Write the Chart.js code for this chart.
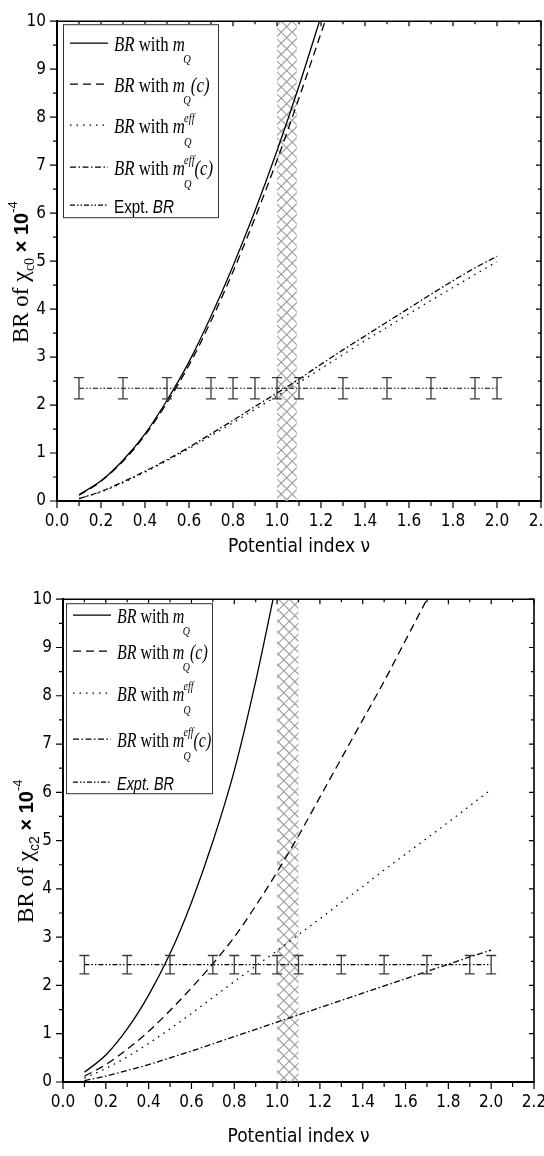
<!DOCTYPE html>
<html>
<head>
<meta charset="utf-8">
<script src="https://cdn.jsdelivr.net/npm/chart.js@4/dist/chart.umd.min.js"></script>
<style>
  html, body { margin: 0; padding: 0; background: #fff; }
  .box { position: absolute; left: 0; width: 544px; height: 578px; }
</style>
</head>
<body>
<div class="box" style="top:0"><canvas id="chartTop" width="544" height="578"></canvas></div>
<div class="box" style="top:578px"><canvas id="chartBottom" width="544" height="578"></canvas></div>
<script>
// Potential index values
const nu = [0.1, 0.2, 0.3, 0.4, 0.5, 0.6, 0.7, 0.8, 0.9, 1.0, 1.1, 1.2, 1.3, 1.4, 1.5, 1.6, 1.7, 1.8, 1.9, 2.0];
const exptNu = [0.1, 0.3, 0.5, 0.7, 0.8, 0.9, 1.0, 1.1, 1.3, 1.5, 1.7, 1.9, 2.0];
const xTickLabels = ['0.0', '0.2', '0.4', '0.6', '0.8', '1.0', '1.2', '1.4', '1.6', '1.8', '2.0', '2.2'];
const yTickLabels = ['0', '1', '2', '3', '4', '5', '6', '7', '8', '9', '10'];

// chi_c0 (top panel)
const c0Mq = [0.13, 0.42, 0.85, 1.40, 2.10, 2.90, 3.85, 4.90, 6.05, 7.30, 8.65, 10.10];
const c0MqC = [0.12, 0.41, 0.83, 1.37, 2.05, 2.83, 3.75, 4.78, 5.90, 7.10, 8.40, 9.75, 11.10];
const c0Eff = [0.05, 0.19, 0.38, 0.60, 0.84, 1.09, 1.36, 1.63, 1.91, 2.19, 2.47, 2.76, 3.05, 3.34, 3.62, 3.90, 4.18, 4.45, 4.72, 4.99];
const c0EffC = [0.05, 0.20, 0.40, 0.62, 0.86, 1.12, 1.40, 1.68, 1.97, 2.25, 2.54, 2.85, 3.15, 3.44, 3.73, 4.02, 4.31, 4.59, 4.86, 5.10];
const c0Expt = 2.35;
const c0Err = 0.22;
const c0Band = [1.0, 1.09];

// chi_c2 (bottom panel)
const c2Mq = [0.20, 0.56, 1.10, 1.80, 2.66, 3.72, 4.98, 6.45, 8.30, 10.40];
const c2MqC = [0.12, 0.36, 0.68, 1.05, 1.48, 1.95, 2.45, 3.00, 3.65, 4.35, 5.10, 5.90, 6.70, 7.50, 8.30, 9.15, 10.00, 10.85];
const c2Eff = [0.08, 0.28, 0.52, 0.80, 1.10, 1.42, 1.75, 2.08, 2.40, 2.72, 3.05, 3.38, 3.72, 4.05, 4.39, 4.72, 5.05, 5.38, 5.72, 6.06];
const c2EffC = [0.03, 0.12, 0.24, 0.36, 0.50, 0.64, 0.79, 0.94, 1.09, 1.24, 1.39, 1.54, 1.69, 1.84, 1.99, 2.14, 2.29, 2.44, 2.59, 2.73];
const c2Expt = 2.43;
const c2Err = 0.19;
const c2Band = [1.0, 1.1];

const SERIF = "'Liberation Serif', 'DejaVu Serif', serif";
const SANS = "'Liberation Sans', Arial, sans-serif";
const NARROW = "'Liberation Sans Narrow', 'DejaVu Sans Condensed', 'Liberation Sans', sans-serif";

const DASH = [8, 5];
const DOT = [1.5, 5];
const DASHDOT = [6, 2.5, 1.5, 2.5];
const DASHDOTDOT = [5, 2, 1.5, 2, 1.5, 2];

function pts(xs, ys) {
    return ys.map((v, i) => ({ x: xs[i], y: v }));
}

// rich text: plain segments, or a stack of sup/sub drawn at the same x
function drawRich(ctx, x, y, segs, sx) {
    ctx.save();
    ctx.translate(x, y);
    ctx.scale(sx, 1);
    ctx.fillStyle = '#000';
    ctx.textBaseline = 'alphabetic';
    let cx = 0;
    segs.forEach(s => {
        cx += s.dx || 0;
        if (s.stack) {
            let w = 0;
            s.stack.forEach(t => {
                ctx.font = t.f;
                ctx.fillText(t.t, cx, t.dy);
                w = Math.max(w, ctx.measureText(t.t).width);
            });
            cx += w;
        } else {
            ctx.font = s.f;
            ctx.fillText(s.t, cx, s.dy || 0);
            cx += ctx.measureText(s.t).width;
        }
    });
    ctx.restore();
    return cx * sx;
}

function richWidth(ctx, segs) {
    let w = 0;
    segs.forEach(s => {
        w += s.dx || 0;
        if (s.stack) {
            let m = 0;
            s.stack.forEach(t => { ctx.font = t.f; m = Math.max(m, ctx.measureText(t.t).width); });
            w += m;
        } else {
            ctx.font = s.f;
            w += ctx.measureText(s.t).width;
        }
    });
    return w;
}

const IT = 'italic 21px ' + SERIF;
const UP = '21px ' + SERIF;
const SUB = 'italic 13px ' + SERIF;
const legendRows = [
    [{ t: 'BR', f: IT }, { t: ' with ', f: UP }, { t: 'm', f: IT }, { t: 'Q', f: SUB, dy: 12, dx: -2 }],
    [{ t: 'BR', f: IT }, { t: ' with ', f: UP }, { t: 'm', f: IT }, { t: 'Q', f: SUB, dy: 12, dx: -2 }, { t: '(c)', f: IT }],
    [{ t: 'BR', f: IT }, { t: ' with ', f: UP }, { t: 'm', f: IT }, { stack: [{ t: 'eff', f: SUB, dy: -11 }, { t: 'Q', f: SUB, dy: 13 }], dx: -1 }],
    [{ t: 'BR', f: IT }, { t: ' with ', f: UP }, { t: 'm', f: IT }, { stack: [{ t: 'eff', f: SUB, dy: -11 }, { t: 'Q', f: SUB, dy: 13 }], dx: -1 }, { t: '(c)', f: IT }]
];

const decor = {
    id: 'decor',
    beforeDatasetsDraw(chart, args, o) {
        const { ctx, chartArea: a, scales: { x } } = chart;
        const x0 = x.getPixelForValue(o.band[0]);
        const x1 = x.getPixelForValue(o.band[1]);
        const h = a.bottom - a.top;
        ctx.save();
        ctx.beginPath();
        ctx.rect(x0, a.top, x1 - x0, h);
        ctx.clip();
        ctx.strokeStyle = '#a0a0a0';
        ctx.lineWidth = 1.2;
        ctx.beginPath();
        for (let s = -h; s < x1 - x0 + h; s += 11) {
            ctx.moveTo(x0 + s, a.top); ctx.lineTo(x0 + s + h, a.bottom);
            ctx.moveTo(x0 + s, a.top); ctx.lineTo(x0 + s - h, a.bottom);
        }
        ctx.stroke();
        ctx.restore();
    },
    afterDatasetsDraw(chart) {
        const { ctx, scales: { y } } = chart;
        ctx.save();
        ctx.strokeStyle = '#3a3a3a';
        ctx.lineWidth = 1.3;
        chart.data.datasets.forEach((ds, i) => {
            if (!ds.errorBar) return;
            chart.getDatasetMeta(i).data.forEach((pt, j) => {
                const v = ds.data[j].y;
                const yt = y.getPixelForValue(v + ds.errorBar);
                const yb = y.getPixelForValue(v - ds.errorBar);
                ctx.beginPath();
                ctx.moveTo(pt.x, yt); ctx.lineTo(pt.x, yb);
                ctx.moveTo(pt.x - 5, yt); ctx.lineTo(pt.x + 5, yt);
                ctx.moveTo(pt.x - 5, yb); ctx.lineTo(pt.x + 5, yb);
                ctx.stroke();
            });
        });
        ctx.restore();
    },
    afterDraw(chart, args, o) {
        const { ctx, chartArea: a, scales: { x, y } } = chart;
        ctx.save();
        ctx.strokeStyle = '#000';
        ctx.lineWidth = 1.2;
        ctx.beginPath();
        // ticks: bottom outward, top inward
        for (let i = 0; i <= 22; i++) {
            const px = x.getPixelForValue(i / 10);
            const major = i % 2 === 0;
            ctx.moveTo(px, a.bottom); ctx.lineTo(px, a.bottom + (major ? 7 : 5));
            ctx.moveTo(px, a.top); ctx.lineTo(px, a.top + (major ? 5 : 3));
        }
        // ticks: left outward, right inward
        for (let i = 0; i <= 20; i++) {
            const py = y.getPixelForValue(i / 2);
            const major = i % 2 === 0;
            ctx.moveTo(a.left - (major ? 7 : 4), py); ctx.lineTo(a.left, py);
            ctx.moveTo(a.right - (major ? 5 : 3), py); ctx.lineTo(a.right, py);
        }
        ctx.stroke();
        // top and right frame
        ctx.lineWidth = 1.6;
        ctx.beginPath();
        ctx.moveTo(a.left, a.top); ctx.lineTo(a.right, a.top); ctx.lineTo(a.right, a.bottom);
        ctx.stroke();

        // legend box
        const L = o.legend;
        const bx = a.left + L.dx, by = a.top + L.dy;
        ctx.fillStyle = '#fff';
        ctx.fillRect(bx, by, L.w, L.h);
        ctx.lineWidth = 1;
        ctx.strokeStyle = '#333';
        ctx.strokeRect(bx + 0.5, by + 0.5, L.w, L.h);
        chart.data.datasets.forEach((ds, i) => {
            const ly = by + L.rows[i];
            ctx.strokeStyle = '#000';
            ctx.lineWidth = 1.2;
            ctx.setLineDash(ds.borderDash || []);
            ctx.beginPath();
            ctx.moveTo(bx + 7, ly); ctx.lineTo(bx + 45, ly);
            ctx.stroke();
            ctx.setLineDash([]);
            const segs = i < 4 ? legendRows[i] : o.exptRow;
            drawRich(ctx, bx + 51, ly + 8, segs, L.sx);
        });

        // rotated y title
        ctx.translate(o.yTitle.x, a.top + o.yTitle.y);
        ctx.rotate(-Math.PI / 2);
        const w = richWidth(ctx, o.yTitle.segs);
        drawRich(ctx, -w / 2, 7, o.yTitle.segs, 1);
        ctx.restore();
    }
};

function makeChart(canvas, series, expt, err, band, geo) {
    const styles = [[], DASH, DOT, DASHDOT];
    const labels = ['BR with mQ', 'BR with mQ(c)', 'BR with mQ eff', 'BR with mQ eff(c)'];
    const datasets = series.map((s, i) => ({
        label: labels[i],
        data: pts(nu, s),
        borderColor: '#000',
        borderWidth: 1.3,
        borderDash: styles[i],
        pointRadius: 0,
        cubicInterpolationMode: 'monotone',
        fill: false
    }));
    datasets.push({
        label: 'Expt. BR',
        data: pts(exptNu, exptNu.map(() => expt)),
        borderColor: '#000',
        borderWidth: 1.2,
        borderDash: DASHDOTDOT,
        pointRadius: 0,
        errorBar: err,
        fill: false
    });
    return new Chart(canvas, {
        type: 'line',
        data: { datasets },
        plugins: [decor],
        options: {
            responsive: false,
            animation: false,
            layout: { padding: { top: geo.top, right: geo.right, left: 0, bottom: 0 } },
            plugins: {
                legend: { display: false },
                tooltip: { enabled: false },
                decor: { band, legend: geo.legend, exptRow: geo.exptRow, yTitle: geo.yTitle }
            },
            scales: {
                x: {
                    type: 'linear',
                    min: 0,
                    max: 2.2,
                    afterFit(s) { s.height = geo.xHeight; s.paddingLeft = 0; s.paddingRight = 0; },
                    grid: { display: false, drawTicks: false },
                    border: { display: true, color: '#000', width: 2 },
                    ticks: {
                        stepSize: 0.2,
                        padding: 10,
                        maxRotation: 0,
                        autoSkip: false,
                        color: '#000',
                        font: { family: NARROW, size: 17 },
                        callback: (v, i) => xTickLabels[i]
                    },
                    title: {
                        display: true,
                        text: 'Potential index ν',
                        color: '#000',
                        font: { family: NARROW, size: 19 },
                        padding: { top: 0, bottom: geo.titlePad }
                    }
                },
                y: {
                    min: 0,
                    max: 10,
                    afterFit(s) { s.width = geo.left; },
                    grid: { display: false, drawTicks: false },
                    border: { display: true, color: '#000', width: 2 },
                    ticks: {
                        stepSize: 1,
                        padding: 11,
                        color: '#000',
                        font: { family: NARROW, size: 17 },
                        callback: (v, i) => yTickLabels[i]
                    }
                }
            }
        }
    });
}

makeChart(document.getElementById('chartTop'), [c0Mq, c0MqC, c0Eff, c0EffC], c0Expt, c0Err, c0Band, {
    top: 11, right: 3, left: 57, xHeight: 77, titlePad: 20,
    legend: { dx: 6, dy: 3, w: 155, h: 193, sx: 0.8, rows: [19, 60, 101, 143, 181] },
    exptRow: [{ t: 'Expt. ', f: '19px ' + SANS }, { t: 'BR', f: 'italic 19px ' + SANS }],
    yTitle: {
        x: 21, y: 251,
        segs: [
            { t: 'BR of ', f: '23px ' + SERIF },
            { t: 'χ', f: '24px ' + SERIF },
            { t: 'c0', f: '14px ' + SERIF, dy: 6 },
            { t: ' × 10', f: 'bold 20px ' + SANS },
            { t: '-4', f: '13px ' + SANS, dy: -11 }
        ]
    }
});

makeChart(document.getElementById('chartBottom'), [c2Mq, c2MqC, c2Eff, c2EffC], c2Expt, c2Err, c2Band, {
    top: 20, right: 10, left: 63, xHeight: 74, titlePad: 8,
    legend: { dx: 3, dy: 4, w: 146, h: 190, sx: 0.76, rows: [12, 48, 90, 136, 179] },
    exptRow: [{ t: 'Expt. BR', f: 'italic 19px ' + SANS }],
    yTitle: {
        x: 26, y: 252,
        segs: [
            { t: 'BR of ', f: '23px ' + SERIF },
            { t: 'χ', f: '24px ' + SERIF },
            { t: 'c2', f: '14px ' + SANS, dy: 6 },
            { t: ' × 10', f: 'bold 20px ' + SANS },
            { t: '-4', f: '13px ' + SANS, dy: -11 }
        ]
    }
});
</script>
</body>
</html>
